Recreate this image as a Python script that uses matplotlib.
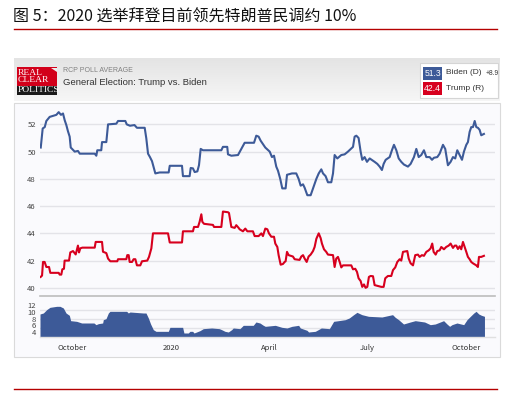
import numpy as np
import pandas as pd
import matplotlib
matplotlib.use("Agg")
import matplotlib.pyplot as plt
from matplotlib.patches import Rectangle, Polygon

plt.rcParams['font.family'] = ['Noto Sans CJK SC', 'DejaVu Sans']

# 数据：距 2019-09-01 的天数与数值
start = pd.Timestamp("2019-09-01")

biden_day = [0.7, 2.5, 4.4, 5.9, 9, 15.2, 17.4, 19.5, 21.4, 23, 24.5, 26, 27.6, 28.6,
             32.3, 35.3, 37, 50.9, 52.4, 53.3, 57, 57.7, 61.7, 63.3, 71, 72.6, 79.4,
             80.7, 83.7, 87.9, 90.2, 97.4, 98.9, 100.5, 102.3, 104.2, 107.3, 111.3,
             119.7, 120.7, 132.1, 133, 139.2, 140.2, 142.3, 143.9, 146.4, 147.9, 149.5,
             151.6, 168.7, 170.2, 174.2, 174.9, 178, 184.2, 187.3, 190.4, 199.1, 201.2,
             203.4, 205.3, 209.6, 213.7, 215.8, 217.7, 219.8, 221.4, 223.5, 225.4,
             228.5, 229.8, 234.4, 238.4, 240.6, 242.5, 244.7, 246.2, 248.7, 251.8,
             254, 257.1, 259.3, 261.7, 263.3, 265.7, 267.9, 271, 272.6, 274.1, 276.6,
             280.3, 283.4, 286.5, 291.2, 292.7, 294.3, 296.4, 298.3, 299.8, 302,
             304.2, 306.7, 311.3, 313.8, 316, 318.1, 319.7, 321.6, 325.3, 327.4,
             329.3, 331.5, 333.7, 336.1, 338.6, 342.3, 344.8, 347.9, 350.1, 352.3,
             354.7, 357.2, 359.4, 362.5, 364.7, 366.5, 369.6, 371.8, 374.9, 377,
             379.5, 382, 384.2, 386.3, 388.2, 390.4, 392.6, 394.4, 396.6, 398.1,
             399.7, 401.2, 402.8, 404.4, 405.9, 407.4, 409, 410.5, 413]
biden_val = [50.3, 51.7, 51.8, 52.25, 52.55, 52.7, 52.9, 52.7, 52.8, 52.3, 51.95, 51.5,
             51.1, 50.3, 50.0, 50.05, 49.85, 49.85, 49.7, 50.1, 50.1, 50.7, 50.7, 52.0,
             52.05, 52.25, 52.25, 52.0, 51.9, 51.95, 51.75, 51.75, 50.97, 49.85, 49.6,
             49.3, 48.4, 48.47, 48.47, 48.96, 48.96, 48.2, 48.2, 48.8, 48.77, 48.5,
             48.55, 49.0, 50.2, 50.1, 50.1, 50.35, 50.35, 49.8, 49.7, 49.75, 50.2,
             50.65, 50.65, 51.17, 51.1, 50.8, 50.3, 50.0, 49.6, 49.7, 48.9, 48.6,
             48.0, 47.3, 47.3, 48.3, 48.4, 48.4, 48.0, 47.5, 47.6, 47.35, 46.8, 46.8,
             47.3, 48.0, 48.4, 48.7, 48.4, 48.2, 47.75, 47.75, 48.4, 49.75, 49.5,
             49.75, 49.8, 50.0, 50.35, 51.1, 51.17, 51.0, 50.0, 49.4, 49.6, 49.25,
             49.5, 49.25, 49.1, 48.9, 48.65, 49.1, 49.4, 49.6, 50.1, 50.5, 50.1,
             49.5, 49.25, 49.05, 48.9, 49.1, 49.6, 50.2, 49.6, 49.75, 50.1, 49.6,
             49.6, 49.4, 49.55, 49.6, 49.85, 50.5, 50.2, 49.0, 49.25, 49.6, 49.5,
             50.1, 49.75, 49.4, 50.0, 50.5, 50.7, 51.45, 51.8, 51.8, 52.25, 51.8,
             51.75, 51.6, 51.2, 51.3]

trump_day = [0.6, 1.9, 2.8, 4.3, 5.9, 8.4, 9.6, 17.4, 18.3, 19.8, 20.8, 22.3, 22.9, 27,
             28.2, 30.7, 32.2, 33.2, 35.3, 36.3, 37.5, 39.4, 50.9, 51.8, 57.7, 58.6,
             61.7, 63.3, 65.4, 71.9, 72.6, 80.3, 81.2, 82.5, 83.4, 85.6, 87.1, 88.7,
             90.2, 93.3, 94.9, 99.8, 101.4, 103.6, 105.1, 119.1, 120.7, 132.1, 133,
             142.3, 143.3, 147, 148.5, 150.1, 151, 152.6, 160.9, 161.9, 168.7, 170.2,
             174.9, 175.8, 178, 181.1, 182.6, 184.8, 185.7, 188.8, 191, 192.9, 198.1,
             199.7, 203.4, 205.9, 207.4, 209.6, 211.5, 213, 215.2, 217.7, 218.9,
             220.8, 222, 223.9, 226, 227.6, 228.5, 229.8, 231.3, 235.3, 236.9, 241.5,
             243.1, 244.7, 246.2, 248.1, 249.9, 251.8, 254, 255.5, 257.1, 259.3,
             261.1, 262.3, 264.2, 266.3, 267.9, 272.6, 274.1, 275.6, 277.2, 278.8,
             280.3, 281.9, 289.6, 291.2, 293.3, 294.9, 296.4, 298.3, 299.8, 301.4,
             302.9, 304.5, 306, 307.6, 309.8, 311.3, 313.8, 317.5, 319.7, 321.2,
             323.7, 326.8, 328.4, 330.5, 332.4, 334.6, 336.1, 337.7, 341.7, 343,
             344.8, 347, 349.1, 351.6, 353.2, 355.3, 357.2, 359.4, 361.6, 363.4,
             364.9, 366.2, 368.1, 369.6, 371.8, 373.3, 375.8, 377.9, 380.2, 382,
             384.2, 385.8, 387.3, 388.8, 390.4, 391.9, 393.5, 395.1, 396.6, 398.1,
             399.7, 401.2, 402.8, 405.9, 407.4, 408.4, 410.5, 413]
trump_val = [40.8, 40.9, 41.9, 41.9, 41.53, 41.53, 41.1, 41.1, 40.97, 40.97, 41.36, 41.4,
             42.0, 42.0, 42.6, 42.7, 42.55, 42.45, 43.1, 42.6, 42.9, 42.95, 42.95,
             43.37, 43.37, 42.65, 42.55, 42.15, 41.95, 41.95, 42.1, 42.1, 42.4, 42.4,
             41.9, 41.9, 42.1, 42.1, 41.65, 41.65, 41.95, 42.0, 42.27, 42.9, 44.0,
             44.0, 43.33, 43.33, 44.15, 44.15, 44.47, 44.47, 44.85, 45.4, 44.85, 44.7,
             44.62, 44.47, 44.47, 45.6, 45.55, 45.5, 44.47, 44.4, 44.6, 44.4, 44.3,
             44.15, 44.35, 44.15, 44.15, 43.8, 43.8, 44.0, 43.8, 44.35, 44.3, 44.0,
             43.75, 43.75, 43.25, 43.0, 42.4, 41.7, 41.75, 41.9, 41.95, 42.64, 42.4,
             42.3, 42.1, 42.05, 42.3, 42.4, 42.15, 41.9, 42.3, 42.44, 42.7, 43.0,
             43.6, 44.0, 43.65, 43.25, 42.83, 42.64, 42.44, 42.4, 41.53, 42.15,
             42.27, 41.9, 41.5, 41.65, 41.65, 41.36, 41.4, 41.17, 40.7, 40.5, 40.07,
             40.25, 40.0, 40.07, 40.8, 40.87, 40.85, 40.2, 40.15, 40.07, 40.07, 40.7,
             40.87, 40.87, 41.3, 41.5, 41.9, 42.1, 42.0, 42.64, 42.7, 42.15, 41.8,
             41.65, 42.4, 42.44, 42.27, 42.4, 42.35, 42.64, 42.75, 42.9, 43.25,
             42.64, 42.44, 42.7, 42.75, 43.0, 42.83, 43.0, 43.1, 43.25, 42.93, 43.1,
             43.1, 42.85, 43.05, 42.83, 43.37, 43.0, 42.64, 42.27, 42.1, 41.9, 41.8,
             41.65, 41.53, 42.27, 42.27, 42.35]

spread_day = [0, 3.1, 6.2, 9.3, 15.5, 18.6, 21.7, 24.2, 27.3, 28.5, 34.1, 38.8, 50.2,
              52.1, 54.3, 58.3, 58.9, 61.4, 63.6, 65.1, 80.6, 82.2, 83.7, 96.1, 98.6,
              100.8, 102.9, 105.4, 107.9, 119.4, 120.9, 132.7, 133.9, 138, 139.5, 142,
              143.3, 145.7, 148.8, 151.9, 159.7, 166.8, 169, 172.1, 175.2, 178.3,
              179.8, 186, 189.1, 198.4, 200.9, 204.6, 207.8, 209.6, 218.9, 225.1,
              229.8, 234.4, 240.6, 242.2, 248.4, 249.9, 256.1, 261.7, 269.2, 273.2,
              277.8, 284, 287.7, 291.8, 294.9, 299.5, 305.7, 318.1, 328, 330.5,
              333.6, 338.2, 344.5, 349.1, 357.8, 363.1, 367.7, 372.4, 375.5, 378.6,
              381.1, 383.3, 387.9, 394.2, 397.3, 400.4, 403.6, 405.7, 408.2, 410.7,
              413.5]
spread_val = [9.4, 9.7, 10.7, 11.4, 11.7, 11.7, 11.2, 9.7, 9.0, 7.4, 7.2, 6.7, 6.7, 6.2,
              6.5, 6.7, 7.7, 8.0, 9.7, 10.2, 10.2, 9.7, 10.0, 9.7, 9.7, 8.2, 6.4, 4.7,
              4.2, 4.2, 5.4, 5.4, 3.7, 3.7, 4.2, 4.2, 3.7, 4.0, 4.4, 5.0, 5.2, 5.0,
              4.7, 4.2, 4.0, 4.7, 5.2, 5.0, 6.0, 6.0, 7.0, 6.7, 6.0, 5.7, 6.0, 5.4,
              5.2, 5.7, 6.0, 5.2, 4.5, 4.0, 4.2, 5.2, 5.0, 7.2, 7.4, 7.7, 8.2, 9.2,
              9.9, 9.2, 8.7, 8.5, 9.2, 8.4, 7.7, 6.4, 7.0, 7.4, 7.0, 6.2, 6.4, 7.0,
              7.4, 6.4, 5.7, 6.2, 6.7, 6.2, 7.7, 8.7, 9.7, 10.2, 9.4, 9.0, 8.7]

tick_dates = ["2019-10-01", "2020-01-01", "2020-04-01", "2020-07-01", "2020-10-01"]
tick_labels = ["October", "2020", "April", "July", "October"]

title = "图 5：2020 选举拜登目前领先特朗普民调约 10%"
biden_last, trump_last, lead = "51.3", "42.4", "+8.9"

BLUE = "#3d5a98"
RED = "#d7001e"

def to_dates(days):
    return start + pd.to_timedelta(np.array(days), unit="D")

W, H = 511, 395
fig = plt.figure(figsize=(W / 100, H / 100), dpi=100)
fig.patch.set_facecolor("white")

def fx(px):
    return px / W

def fy(py):
    return 1 - py / H

def rect(x0, y0, x1, y1, **kw):
    fig.patches.append(Rectangle((fx(x0), fy(y1)), fx(x1) - fx(x0), fy(y0) - fy(y1),
                                 transform=fig.transFigure, **kw))

# 标题和红线
fig.text(fx(13), fy(17), title, fontsize=11.5, color="#111111", va="center", ha="left",
         fontweight="medium")
fig.add_artist(plt.Line2D([fx(14), fx(497)], [fy(29), fy(29)], color="#b50000", lw=1.0,
                          transform=fig.transFigure))
fig.add_artist(plt.Line2D([fx(14), fx(497)], [fy(389), fy(389)], color="#b50000", lw=1.0,
                          transform=fig.transFigure))

# 顶部灰色栏（渐变）
hdr = fig.add_axes([fx(14), fy(101), fx(500) - fx(14), (101 - 58) / H], zorder=-2)
grad = np.linspace(0, 1, 50).reshape(-1, 1)
hdr.imshow(grad, aspect="auto", cmap=matplotlib.colors.LinearSegmentedColormap.from_list(
    "g", ["#e4e4e4", "#f6f6f6"]), extent=[0, 1, 0, 1], origin="upper")
hdr.set_axis_off()

# logo
rect(17, 67.5, 56.5, 86, facecolor="#d2001a", edgecolor="none", zorder=5)
rect(17, 85.5, 56.5, 94.5, facecolor="#1a1a1a", edgecolor="none", zorder=5)
fig.patches.append(Polygon([[fx(51), fy(67.5)], [fx(56.5), fy(67.5)], [fx(56.5), fy(72)]],
                           closed=True, transform=fig.transFigure, facecolor="#efefef",
                           edgecolor="none", zorder=6))
for txt, yy in [("REAL", 73), ("CLEAR", 80.3)]:
    fig.text(fx(17.5), fy(yy), txt, fontsize=6.8, color="white", va="center", ha="left",
             family="Liberation Serif", zorder=7)
fig.text(fx(17.5), fy(90.3), "POLITICS", fontsize=6.8, color="white", va="center", ha="left",
         family="Liberation Serif", zorder=7)

fig.text(fx(63), fy(71), "RCP POLL AVERAGE", fontsize=5, color="#808080", va="center",
         ha="left", family="Liberation Sans")
fig.text(fx(63), fy(82.5), "General Election: Trump vs. Biden", fontsize=6.8, color="#333333",
         va="center", ha="left", family="Liberation Sans")

# 图例
rect(420, 63, 498, 97.5, facecolor="white", edgecolor="#d5d5d5", lw=0.8, zorder=5)
rect(423, 66.5, 442, 79.5, facecolor=BLUE, edgecolor="none", zorder=6)
rect(423, 82, 442, 95, facecolor=RED, edgecolor="none", zorder=6)
fig.text(fx(432.5), fy(73), biden_last, fontsize=6.2, color="white", va="center",
         ha="center", family="Liberation Sans", zorder=7)
fig.text(fx(432.5), fy(88.5), trump_last, fontsize=6.2, color="white", va="center",
         ha="center", family="Liberation Sans", zorder=7)
fig.text(fx(445.5), fy(73), "Biden (D)", fontsize=6.0, color="#333333", va="center",
         ha="left", family="Liberation Sans", zorder=7)
fig.text(fx(485.5), fy(73.5), lead, fontsize=4.8, color="#333333", va="center",
         ha="left", family="Liberation Sans", zorder=7)
fig.text(fx(445.5), fy(88.5), "Trump (R)", fontsize=6.0, color="#333333", va="center",
         ha="left", family="Liberation Sans", zorder=7)

# 图表面板
rect(14, 102.5, 500, 357, facecolor="#fafafd", edgecolor="#dadada", lw=0.8, zorder=-1)

x_lo = start
x_hi = start + pd.Timedelta(days=423.3)

# 主图
ax = fig.add_axes([fx(40), fy(296), fx(495) - fx(40), (296 - 106) / H])
ax.set_facecolor("none")
ax.set_xlim(x_lo, x_hi)
ax.set_ylim(39.4, 53.35)
for v in range(40, 53, 2):
    ax.axhline(v, color="#e3e3e8", lw=1.0, zorder=1)
ax.plot(to_dates(biden_day), biden_val, color=BLUE, lw=1.5, zorder=3)
ax.plot(to_dates(trump_day), trump_val, color=RED, lw=1.5, zorder=3)
ax.set_yticks(range(40, 53, 2))
ax.tick_params(axis="y", length=0, labelsize=5.5, labelcolor="#444444", pad=3)
ax.set_xticks([])
for s in ["top", "right", "left"]:
    ax.spines[s].set_visible(False)
ax.spines["bottom"].set_color("#bdbdbd")
ax.spines["bottom"].set_linewidth(1.2)

# 差值面积图
ax2 = fig.add_axes([fx(40), fy(337), fx(495) - fx(40), (337 - 300) / H])
ax2.set_facecolor("none")
ax2.set_xlim(x_lo, x_hi)
ax2.set_ylim(2.5, 13.6)
for v in [5.2, 7.8, 10.5]:
    ax2.axhline(v, color="#e3e3e8", lw=1.0, zorder=1)
ax2.fill_between(to_dates(spread_day), spread_val, 2.5, color=BLUE, lw=0, zorder=2)
ax2.set_yticks([4, 6, 8, 10, 12])
ax2.tick_params(axis="y", length=0, labelsize=5.5, labelcolor="#444444", pad=3)
ax2.set_xticks(pd.to_datetime(tick_dates))
ax2.set_xticklabels(tick_labels)
ax2.tick_params(axis="x", length=0, labelsize=5.5, labelcolor="#333333", pad=5)
for s in ["top", "right", "left"]:
    ax2.spines[s].set_visible(False)
ax2.spines["bottom"].set_color("#e0e0e0")
ax2.spines["bottom"].set_linewidth(1.0)

fig.savefig("out.png", dpi=100)
